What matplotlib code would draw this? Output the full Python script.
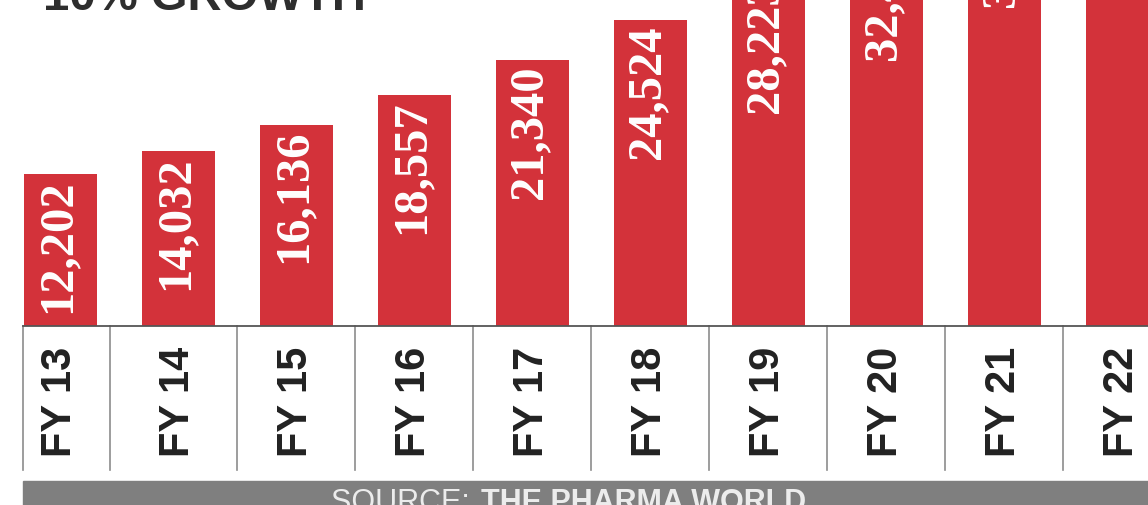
import matplotlib
matplotlib.use('Agg')
import matplotlib.pyplot as plt
from matplotlib import transforms

# data (FY20-FY22 only partly visible in the crop, estimated)
years = ['FY 13', 'FY 14', 'FY 15', 'FY 16', 'FY 17',
         'FY 18', 'FY 19', 'FY 20', 'FY 21', 'FY 22']
values = [12202, 14032, 16136, 18557, 21340, 24524, 28223, 32450, 36760, 42300]

TITLE = '10% GROWTH'
SOURCE_A = 'SOURCE: '
SOURCE_B = 'THE PHARMA WORLD'

RED = '#d3323a'
W, H = 1148, 505
PX = 0.01246  # pixels per unit

fig = plt.figure(figsize=(W / 100, H / 100), dpi=100)
fig.patch.set_facecolor('white')

# axes: baseline at y=326px from top, axes reaches figure top
base_px = 326
ax = fig.add_axes([0, (H - base_px) / H, 1, base_px / H])
ax.set_xlim(-60.5 / 118, -60.5 / 118 + W / 118)
ax.set_ylim(0, base_px / PX)
ax.axis('off')

xs = list(range(len(years)))
ax.bar(xs, values, width=0.62, color=RED, linewidth=0, zorder=2)

for x, v in zip(xs, values):
  ax.text(x - 0.03, v - 5 / PX, f'{v:,}', rotation=90,
          ha='center', va='top', color='white', fontsize=35,
          family='Liberation Serif', fontweight='bold', zorder=3)

# category strip below the baseline
trans = transforms.blended_transform_factory(ax.transData, ax.transAxes)
ax.plot([-0.32, 9.3], [0, 0], transform=trans, color='#555555',
        lw=1.3, clip_on=False, zorder=4)
seps = [-0.32, 0.42] + [i + 0.5 for i in range(1, 9)]
for s in seps:
  ax.plot([s, s], [0, -144 / base_px], transform=trans, color='#8c8c8c',
          lw=1.2, clip_on=False)
for x, lab in zip(xs, years):
  ax.text(x, -131 / base_px, lab, transform=trans, rotation=90,
          ha='center', va='bottom', fontsize=30, fontweight='bold',
          family='Liberation Sans', color='#222222')

# cropped title at the top
fig.text(43 / W, 1 - 10 / H, TITLE, ha='left', va='baseline',
         fontsize=34, fontweight='bold', family='Liberation Sans',
         color='#2e2e2e')

# source band at the bottom
fig.patches.append(plt.Rectangle((23 / W, 0), 1, (H - 481) / H,
                                 transform=fig.transFigure,
                                 color='#7f7f7f', zorder=0))
fig.text(478 / W, (H - 511) / H, SOURCE_A, ha='right', va='baseline',
         fontsize=22, family='Liberation Sans', color='#ececec')
fig.text(481 / W, (H - 511) / H, SOURCE_B, ha='left', va='baseline',
         fontsize=22, fontweight='bold', family='Liberation Sans',
         color='#ececec')

fig.savefig('out.png', dpi=100)
